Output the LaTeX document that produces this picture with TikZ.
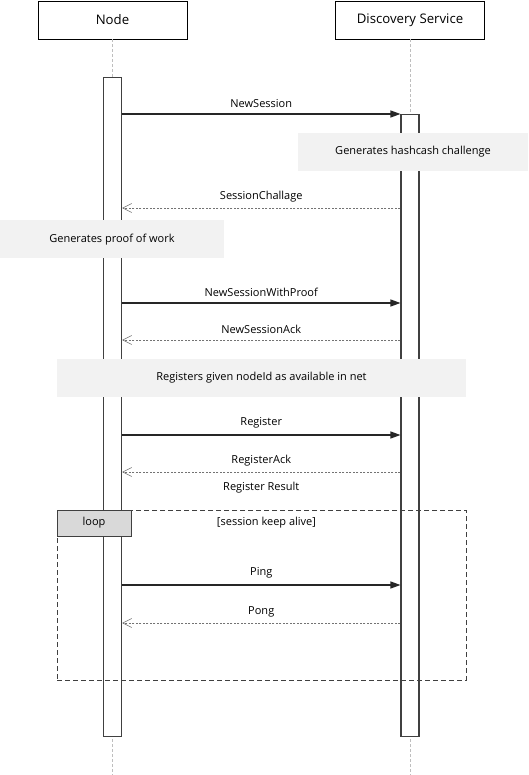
\documentclass[tikz,border=0pt]{standalone}
\usepackage{fontspec}
\setmainfont{Open Sans}
\usetikzlibrary{positioning, arrows.meta}

\definecolor{notegray}{RGB}{242,242,242}
\definecolor{taggray}{RGB}{217,217,217}
\definecolor{linegray}{RGB}{190,190,190}

\tikzset{
  header/.style={rectangle, draw, line width=0.9pt, fill=white, minimum width=149pt, minimum height=38pt, inner sep=0pt, font=\fontsize{13.2}{15}\selectfont},
  lifeline/.style={draw=linegray, dash pattern=on 3pt off 2pt, line width=0.7pt},
  actbar/.style={rectangle, draw=black!75, line width=1.1pt, fill=white, minimum width=18pt, inner sep=0pt, anchor=north},
  note/.style={rectangle, fill=notegray, minimum height=38pt, inner sep=0pt},
  call/.style={-{Triangle[length=10pt, width=7pt]}, line width=1.2pt, black!85},
  reply/.style={-{Straight Barb[length=9pt, width=9pt, line width=0.6pt]}, black!55, dash pattern=on 2pt off 1.5pt, line width=0.6pt},
  msg/.style={midway, above=6pt, inner sep=0pt, text=black}
}

\begin{document}
\begin{tikzpicture}[x=1pt, y=-1pt, font=\fontsize{11}{13}\selectfont]
  \useasboundingbox[fill=white] (0,0) rectangle (529,775);

  % Participants
  \node (node) [header] at (112.5,20) {Node};
  \node (disc) [header] at (410,20) {Discovery Service};
  \coordinate (nodeend) at (112.5,775);
  \coordinate (discend) at (410,775);
  \draw[lifeline] (node) -- (nodeend);
  \draw[lifeline] (disc) -- (discend);

  % Activation bars
  \node (nodeact) [actbar, minimum height=659pt] at (112.5,77) {};
  \node (discact) [actbar, minimum height=622pt] at (410,114) {};

  % Message rows
  \coordinate (m1) at (0,114);
  \coordinate (m2) at (0,208);
  \coordinate (m3) at (0,303);
  \coordinate (m4) at (0,340);
  \coordinate (m5) at (0,435);
  \coordinate (m6) at (0,472);
  \coordinate (m7) at (0,585);
  \coordinate (m8) at (0,623);

  % Notes
  \node (hashnote) [note, minimum width=230pt] at (413,152) {Generates hashcash challenge};
  \node (proofnote) [note, minimum width=224pt] at (112,239.5) {Generates proof of work};
  \node (regnote) [note, minimum width=409pt] at (261.5,378) {Registers given nodeId as available in net};

  % Arrows
  \draw[call] (nodeact.east |- m1) -- (discact.west |- m1) node[msg] {NewSession};
  \draw[reply] (discact.west |- m2) -- (nodeact.east |- m2) node[msg] {SessionChallage};
  \draw[call] (nodeact.east |- m3) -- (discact.west |- m3) node[msg] {NewSessionWithProof};
  \draw[reply] (discact.west |- m4) -- (nodeact.east |- m4) node[msg] {NewSessionAck};
  \draw[call] (nodeact.east |- m5) -- (discact.west |- m5) node[msg] {Register};
  \draw[reply] (discact.west |- m6) -- (nodeact.east |- m6) node[msg] {RegisterAck}
    node[midway, below=10pt, inner sep=0pt, text=black] {Register Result};

  % Loop fragment
  \node (loopframe) [rectangle, draw=black!75, line width=0.9pt, dash pattern=on 5pt off 3pt, minimum width=409pt, minimum height=170pt, inner sep=0pt] at (261.5,595) {};
  \node (looptag) [rectangle, draw=black!75, line width=0.9pt, fill=taggray, minimum width=74pt, minimum height=26pt, inner sep=0pt, anchor=north west] at (loopframe.north west) {loop};
  \node (guard) [right=82pt of looptag] {[session keep alive]};
  \draw[call] (nodeact.east |- m7) -- (discact.west |- m7) node[msg] {Ping};
  \draw[reply] (discact.west |- m8) -- (nodeact.east |- m8) node[msg] {Pong};
\end{tikzpicture}
\end{document}
